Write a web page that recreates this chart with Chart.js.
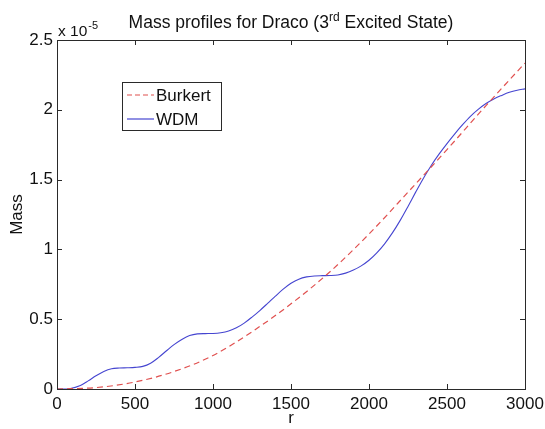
<!DOCTYPE html>
<html>
<head>
<meta charset="utf-8">
<script src="https://cdn.jsdelivr.net/npm/chart.js@4.4.1/dist/chart.umd.min.js"></script>
<style>
  html, body { margin: 0; padding: 0; background: #fff; }
  #wrap { width: 545px; height: 429px; }
</style>
</head>
<body>
<div id="wrap"><canvas id="c" width="545" height="429"></canvas></div>
<script>
// ---- data (Mass in units of 1e-5) ----
const burkertR = [0, 250, 500, 750, 1000, 1250, 1500, 1750, 2000, 2250, 2500, 2750, 3000];
const burkertM = [0, 0.01, 0.05, 0.125, 0.24, 0.41, 0.61, 0.84, 1.11, 1.41, 1.715, 2.03, 2.335];

const wdmR = [0, 50, 80, 150, 200, 250, 300, 350, 400, 450, 500, 550, 600, 650, 700, 750, 800, 850, 900, 950,
  1000, 1050, 1100, 1150, 1200, 1250, 1300, 1350, 1400, 1450, 1500, 1550, 1600, 1650, 1700, 1750, 1800, 1850,
  1900, 1950, 2000, 2050, 2100, 2150, 2200, 2250, 2300, 2350, 2400, 2450, 2500, 2550, 2600, 2650, 2700, 2750,
  2800, 2850, 2900, 2950, 3000];
const wdmM = [0, 0, 0.002, 0.025, 0.058, 0.095, 0.126, 0.145, 0.15, 0.152, 0.155, 0.162, 0.185, 0.225, 0.272, 0.318,
  0.355, 0.383, 0.395, 0.397, 0.398, 0.403, 0.415, 0.438, 0.472, 0.515, 0.562, 0.613, 0.665, 0.715, 0.757, 0.787, 0.803,
  0.81, 0.812, 0.813, 0.817, 0.83, 0.852, 0.882, 0.922, 0.975, 1.04, 1.118, 1.208, 1.308, 1.412, 1.512, 1.603, 1.684,
  1.758, 1.828, 1.893, 1.953, 2.003, 2.045, 2.078, 2.103, 2.125, 2.14, 2.15];

const xTicks = [0, 500, 1000, 1500, 2000, 2500, 3000];
const yTicks = [0, 0.5, 1, 1.5, 2, 2.5];
const seriesNames = ['Burkert', 'WDM'];
const titleMain = 'Mass profiles for Draco (3';
const titleSup = 'rd';
const titleEnd = ' Excited State)';
const yExponent = '-5';

const FONT = '"Liberation Sans", Arial, Helvetica, sans-serif';
const RED = '#e0504f';
const BLUE = '#4545d0';

const toPts = (xs, ys) => xs.map((x, i) => ({ x: x, y: ys[i] }));

const matlabPlugin = {
  id: 'matlab',
  afterDraw(chart) {
    const ctx = chart.ctx;
    const a = chart.chartArea;
    const xs = chart.scales.x, ys = chart.scales.y;
    ctx.save();
    // box
    ctx.strokeStyle = '#2a2a2a';
    ctx.lineWidth = 1;
    ctx.strokeRect(Math.round(a.left) + 0.5, Math.round(a.top) + 0.5,
      Math.round(a.right - a.left), Math.round(a.bottom - a.top));
    // inward ticks
    const tl = 5;
    ctx.beginPath();
    xTicks.forEach(v => {
      const px = Math.round(xs.getPixelForValue(v)) + 0.5;
      ctx.moveTo(px, a.bottom); ctx.lineTo(px, a.bottom - tl);
      ctx.moveTo(px, a.top); ctx.lineTo(px, a.top + tl);
    });
    yTicks.forEach(v => {
      const py = Math.round(ys.getPixelForValue(v)) + 0.5;
      ctx.moveTo(a.left, py); ctx.lineTo(a.left + tl, py);
      ctx.moveTo(a.right, py); ctx.lineTo(a.right - tl, py);
    });
    ctx.stroke();

    // title with superscript
    ctx.fillStyle = '#111';
    ctx.textBaseline = 'alphabetic';
    const fMain = '17.5px ' + FONT, fSup = '12px ' + FONT;
    ctx.font = fMain;
    const w1 = ctx.measureText(titleMain).width;
    const w3 = ctx.measureText(titleEnd).width;
    ctx.font = fSup;
    const w2 = ctx.measureText(titleSup).width;
    const total = w1 + w2 + w3;
    let tx = (a.left + a.right) / 2 - total / 2;
    const tb = 28;
    ctx.textAlign = 'left';
    ctx.font = fMain; ctx.fillText(titleMain, tx, tb); tx += w1;
    ctx.font = fSup; ctx.fillText(titleSup, tx, tb - 7); tx += w2;
    ctx.font = fMain; ctx.fillText(titleEnd, tx, tb);

    // exponent label
    ctx.font = '15.5px ' + FONT;
    ctx.fillText('x 10', a.left + 1, a.top - 4);
    const wx = ctx.measureText('x 10').width;
    ctx.font = '11px ' + FONT;
    ctx.fillText(yExponent, a.left + 1 + wx + 1, a.top - 11);

    // legend
    const lx = 122, ly = 82, lw = 99, lh = 48;
    ctx.fillStyle = '#fff';
    ctx.fillRect(lx, ly, lw, lh);
    ctx.strokeStyle = '#2a2a2a';
    ctx.strokeRect(lx + 0.5, ly + 0.5, lw, lh);
    const rows = [
      { name: seriesNames[0], color: RED, dash: [5, 3], y: ly + 13 },
      { name: seriesNames[1], color: BLUE, dash: [], y: ly + 37 }
    ];
    rows.forEach(r => {
      ctx.strokeStyle = r.color;
      ctx.lineWidth = 1.2;
      ctx.setLineDash(r.dash);
      ctx.beginPath();
      ctx.moveTo(lx + 5, r.y); ctx.lineTo(lx + 32, r.y);
      ctx.stroke();
      ctx.setLineDash([]);
      ctx.fillStyle = '#111';
      ctx.font = '17px ' + FONT;
      ctx.textBaseline = 'middle';
      ctx.fillText(r.name, lx + 34, r.y + 1);
    });
    ctx.restore();
  }
};

new Chart(document.getElementById('c'), {
  type: 'line',
  data: {
    datasets: [
      {
        label: seriesNames[0],
        data: toPts(burkertR, burkertM),
        borderColor: RED,
        borderWidth: 1.2,
        borderDash: [6, 4],
        pointRadius: 0,
        cubicInterpolationMode: 'monotone',
        fill: false
      },
      {
        label: seriesNames[1],
        data: toPts(wdmR, wdmM),
        borderColor: BLUE,
        borderWidth: 1.1,
        pointRadius: 0,
        cubicInterpolationMode: 'monotone',
        fill: false
      }
    ]
  },
  options: {
    responsive: false,
    animation: false,
    devicePixelRatio: 1,
    layout: { padding: { top: 40, right: 20, left: 0, bottom: 0 } },
    plugins: {
      legend: { display: false },
      title: { display: false },
      tooltip: { enabled: false }
    },
    scales: {
      x: {
        type: 'linear',
        min: 0, max: 3000,
        afterBuildTicks: s => { s.ticks = xTicks.map(v => ({ value: v })); },
        afterFit: s => { s.height = 40; s.paddingLeft = 0; s.paddingRight = 0; },
        grid: { display: false, drawTicks: false },
        border: { display: false },
        ticks: {
          padding: 5,
          color: '#111',
          font: { family: FONT, size: 17 },
          maxRotation: 0,
          callback: v => String(v)
        },
        title: {
          display: true, text: 'r', color: '#111',
          font: { family: FONT, size: 17 },
          padding: { top: 0, bottom: 0 }
        }
      },
      y: {
        type: 'linear',
        min: 0, max: 2.5,
        afterBuildTicks: s => { s.ticks = yTicks.map(v => ({ value: v })); },
        afterFit: s => { s.width = 57; s.paddingTop = 0; s.paddingBottom = 0; },
        grid: { display: false, drawTicks: false },
        border: { display: false },
        ticks: {
          padding: 4,
          color: '#111',
          font: { family: FONT, size: 17 },
          callback: v => String(v)
        },
        title: {
          display: true, text: 'Mass', color: '#111',
          font: { family: FONT, size: 17 },
          padding: { top: 7, bottom: 0 }
        }
      }
    }
  },
  plugins: [matlabPlugin]
});
</script>
</body>
</html>
